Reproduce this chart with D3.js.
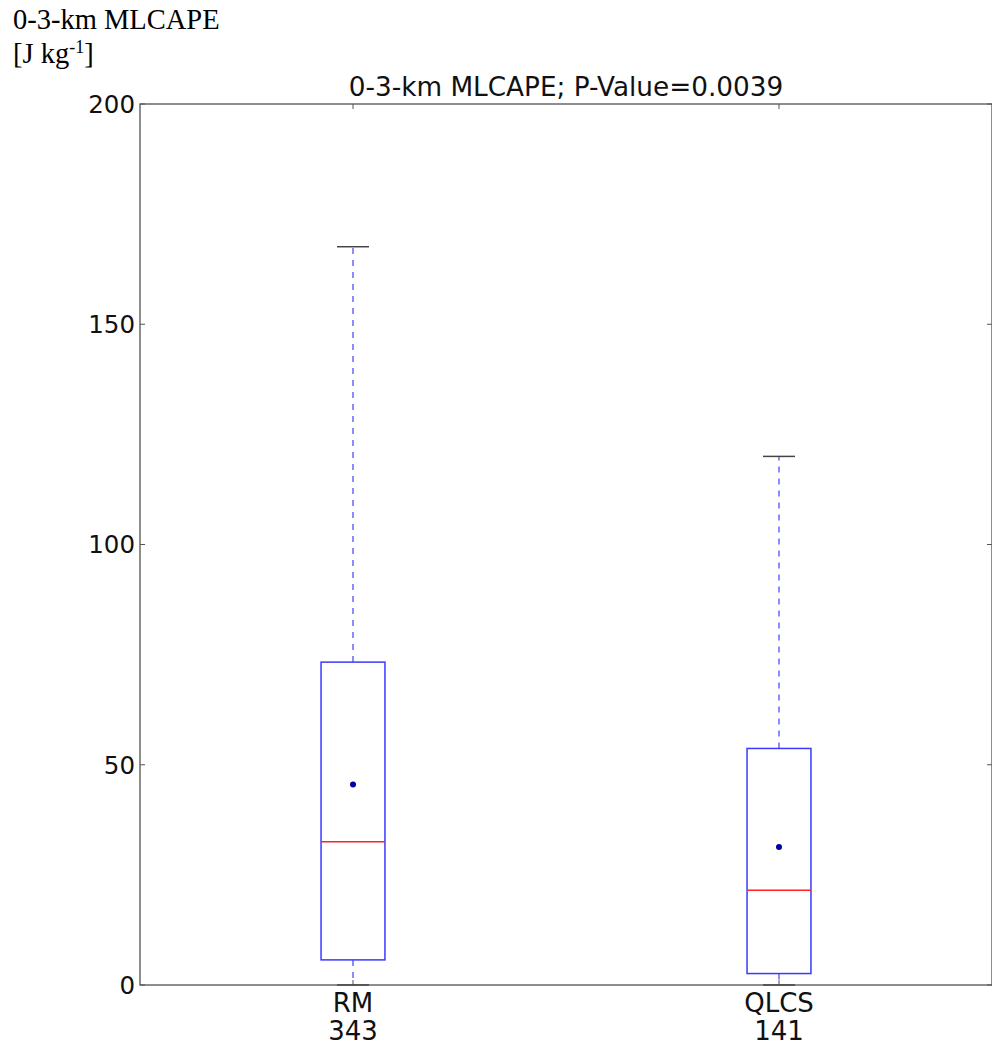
<!DOCTYPE html>
<html>
<head>
<meta charset="utf-8">
<script src="https://cdn.jsdelivr.net/npm/d3@7"></script>
<style>
  body { margin: 0; background: #fff; }
  svg { display: block; }
</style>
</head>
<body>
<script>
// Chart data
var categories = ["RM", "QLCS"];
var counts = [343, 141];
var whiskerLow = [0, 0];
var q1 = [5.7, 2.6];
var medians = [32.5, 21.5];
var q3 = [73.3, 53.7];
var whiskerHigh = [167.6, 120.0];
var means = [45.5, 31.3];
var yTicks = [0, 50, 100, 150, 200];

var svgWidth = 992;
var svgHeight = 1051;

var chartMargin = { top: 104, right: 0, bottom: 66, left: 140 };
var chartWidth = svgWidth - chartMargin.left - chartMargin.right;
var chartHeight = svgHeight - chartMargin.top - chartMargin.bottom;

var svg = d3.select("body")
  .append("svg")
  .attr("width", svgWidth)
  .attr("height", svgHeight);

var chartGroup = svg.append("g")
  .attr("transform", `translate(${chartMargin.left}, ${chartMargin.top})`);

// x positions 1..n, limits [0.5, n + 0.5] like matplotlib boxplot
var xScale = d3.scaleLinear()
  .domain([0.5, categories.length + 0.5])
  .range([0, chartWidth]);

var yScale = d3.scaleLinear()
  .domain([0, 200])
  .range([chartHeight, 0]);

var boxWidth = 0.15;
var capWidth = 0.075;

// axes frame
chartGroup.append("rect")
  .attr("x", 0).attr("y", 0)
  .attr("width", chartWidth).attr("height", chartHeight)
  .attr("fill", "none")
  .attr("stroke", "#444")
  .attr("stroke-width", 1.2);

// y ticks (inward, both sides) and labels
yTicks.forEach(function(t) {
  var y = yScale(t);
  chartGroup.append("line")
    .attr("x1", 0).attr("x2", 5).attr("y1", y).attr("y2", y)
    .attr("stroke", "#555");
  chartGroup.append("line")
    .attr("x1", chartWidth - 5).attr("x2", chartWidth).attr("y1", y).attr("y2", y)
    .attr("stroke", "#555");
  chartGroup.append("text")
    .attr("x", -5).attr("y", y)
    .attr("dy", "0.36em")
    .attr("text-anchor", "end")
    .attr("font-family", "DejaVu Sans")
    .attr("font-size", 24.5)
    .attr("fill", "#111")
    .text(t);
});

// x ticks and two-line labels
categories.forEach(function(c, i) {
  var x = xScale(i + 1);
  chartGroup.append("line")
    .attr("x1", x).attr("x2", x).attr("y1", chartHeight).attr("y2", chartHeight - 5)
    .attr("stroke", "#555");
  chartGroup.append("line")
    .attr("x1", x).attr("x2", x).attr("y1", 0).attr("y2", 5)
    .attr("stroke", "#555");
  var label = chartGroup.append("text")
    .attr("x", x).attr("y", chartHeight + 27)
    .attr("text-anchor", "middle")
    .attr("font-family", "DejaVu Sans")
    .attr("font-size", 26)
    .attr("fill", "#111");
  label.append("tspan").attr("x", x).text(c);
  label.append("tspan").attr("x", x).attr("dy", 28).text(counts[i]);
});

// boxes
var boxes = chartGroup.selectAll(".box")
  .data(categories)
  .enter()
  .append("g")
  .attr("class", "box");

// whiskers (dashed)
boxes.append("line")
  .attr("x1", (d, i) => xScale(i + 1))
  .attr("x2", (d, i) => xScale(i + 1))
  .attr("y1", (d, i) => yScale(q3[i]))
  .attr("y2", (d, i) => yScale(whiskerHigh[i]))
  .attr("stroke", "#5c5cff")
  .attr("stroke-width", 1.4)
  .attr("stroke-dasharray", "6,6");

boxes.append("line")
  .attr("x1", (d, i) => xScale(i + 1))
  .attr("x2", (d, i) => xScale(i + 1))
  .attr("y1", (d, i) => yScale(q1[i]))
  .attr("y2", (d, i) => yScale(whiskerLow[i]))
  .attr("stroke", "#5c5cff")
  .attr("stroke-width", 1.4)
  .attr("stroke-dasharray", "6,6");

// caps
boxes.append("line")
  .attr("x1", (d, i) => xScale(i + 1 - capWidth / 2))
  .attr("x2", (d, i) => xScale(i + 1 + capWidth / 2))
  .attr("y1", (d, i) => yScale(whiskerHigh[i]))
  .attr("y2", (d, i) => yScale(whiskerHigh[i]))
  .attr("stroke", "#444")
  .attr("stroke-width", 1.5);

boxes.append("line")
  .attr("x1", (d, i) => xScale(i + 1 - capWidth / 2))
  .attr("x2", (d, i) => xScale(i + 1 + capWidth / 2))
  .attr("y1", (d, i) => yScale(whiskerLow[i]))
  .attr("y2", (d, i) => yScale(whiskerLow[i]))
  .attr("stroke", "#444")
  .attr("stroke-width", 1.5);

// box rect
boxes.append("rect")
  .attr("x", (d, i) => xScale(i + 1 - boxWidth / 2))
  .attr("width", (d, i) => xScale(i + 1 + boxWidth / 2) - xScale(i + 1 - boxWidth / 2))
  .attr("y", (d, i) => yScale(q3[i]))
  .attr("height", (d, i) => yScale(q1[i]) - yScale(q3[i]))
  .attr("fill", "none")
  .attr("stroke", "#3a3aff")
  .attr("stroke-width", 1.5);

// median
boxes.append("line")
  .attr("x1", (d, i) => xScale(i + 1 - boxWidth / 2))
  .attr("x2", (d, i) => xScale(i + 1 + boxWidth / 2))
  .attr("y1", (d, i) => yScale(medians[i]))
  .attr("y2", (d, i) => yScale(medians[i]))
  .attr("stroke", "#ff2020")
  .attr("stroke-width", 1.5);

// mean
boxes.append("circle")
  .attr("cx", (d, i) => xScale(i + 1))
  .attr("cy", (d, i) => yScale(means[i]))
  .attr("r", 3)
  .attr("fill", "#0000a0");

// title
chartGroup.append("text")
  .attr("x", chartWidth / 2)
  .attr("y", -8)
  .attr("text-anchor", "middle")
  .attr("font-family", "DejaVu Sans")
  .attr("font-size", 26.3)
  .attr("fill", "#111")
  .text("0-3-km MLCAPE; P-Value=0.0039");

// units label at top-left
svg.append("text")
  .attr("x", 13).attr("y", 29)
  .attr("font-family", "Liberation Serif")
  .attr("font-size", 28.5)
  .attr("fill", "#000")
  .text("0-3-km MLCAPE");
var second = svg.append("text")
  .attr("x", 13).attr("y", 63)
  .attr("font-family", "Liberation Serif")
  .attr("font-size", 28.5)
  .attr("fill", "#000");
second.append("tspan").text("[J kg");
second.append("tspan").attr("dy", -10).attr("font-size", 18).text("-1");
second.append("tspan").attr("dy", 10).text("]");
</script>
</body>
</html>
